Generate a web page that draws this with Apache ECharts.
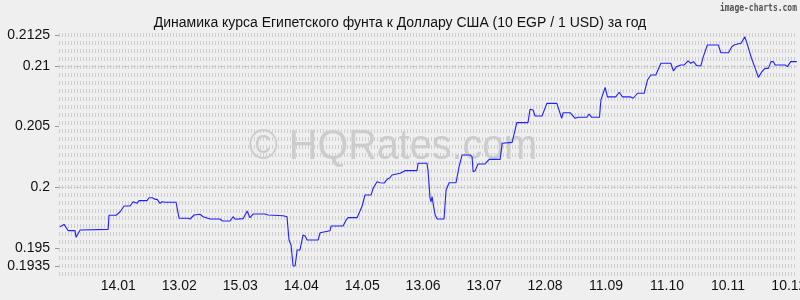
<!DOCTYPE html>
<html><head><meta charset="utf-8">
<script src="https://cdn.jsdelivr.net/npm/echarts@6/dist/echarts.min.js"></script>
<style>html,body{margin:0;padding:0;background:#efefef}#c{width:800px;height:300px}</style>
</head><body><div id="c"></div><script>
const titleText = 'Динамика курса Египетского фунта к Доллару США (10 EGP / 1 USD) за год';
const watermarkText = '© HQRates.com';
const creditText = 'image-charts.com';
// day index counted from 15.12.2024
const dayIndex = [1.3,3.3,5.3,8.7,9.2,11.2,25.0,25.4,28.9,30.9,32.8,35.8,37.3,39.2,40.2,44.1,45.1,46.6,48.1,49.1,50.5,51.5,53.0,58.4,59.9,64.3,65.3,67.3,70.2,71.7,75.2,80.1,81.1,85.0,86.5,87.5,91.4,93.4,94.8,96.3,99.8,100.7,102.2,103.7,111.1,113.0,114.0,115.0,116.0,117.0,118.0,119.4,120.9,121.9,122.9,128.3,129.3,134.2,134.7,140.6,142.1,143.1,147.5,149.0,150.0,151.4,154.4,155.4,157.3,158.8,160.8,162.3,163.7,164.7,168.7,171.1,177.0,177.5,181.9,182.4,183.4,183.9,184.4,184.9,185.9,186.9,190.3,191.3,192.8,196.2,197.7,199.2,203.1,204.1,204.6,205.6,207.0,210.5,211.5,212.5,217.9,218.9,223.8,226.1,231.6,232.6,234.1,235.1,238.5,240.9,245.8,248.2,248.9,252.3,254.8,256.3,260.5,261.7,263.0,266.8,267.5,269.6,270.7,274.8,276.5,278.1,282.1,283.4,285.5,288.8,290.4,292.1,294.5,297.0,301.9,303.2,304.7,306.8,308.5,310.4,311.7,313.1,314.6,316.7,317.9,319.9,325.3,326.5,330.3,331.9,333.1,334.8,336.5,338.3,339.4,341.6,342.5,343.4,345.0,346.7,348.3,349.9,351.2,352.4,353.2,358.1,359.3,360.9,363.9];
const rateValues = [0.19676,0.19695,0.19643,0.19643,0.19588,0.19649,0.19654,0.19770,0.19770,0.19799,0.19846,0.19846,0.19881,0.19868,0.19890,0.19890,0.19914,0.19914,0.19901,0.19901,0.19868,0.19881,0.19877,0.19877,0.19745,0.19745,0.19739,0.19772,0.19778,0.19758,0.19739,0.19739,0.19723,0.19723,0.19758,0.19737,0.19742,0.19805,0.19750,0.19780,0.19780,0.19766,0.19780,0.19772,0.19766,0.19758,0.19566,0.19525,0.19352,0.19352,0.19484,0.19484,0.19607,0.19599,0.19566,0.19566,0.19626,0.19643,0.19681,0.19681,0.19731,0.19750,0.19750,0.19807,0.19846,0.19937,0.19937,0.19992,0.20046,0.20038,0.20035,0.20066,0.20079,0.20101,0.20115,0.20137,0.20137,0.20198,0.20198,0.20142,0.19909,0.19881,0.19923,0.19868,0.19772,0.19739,0.19739,0.19978,0.20038,0.20038,0.20170,0.20266,0.20266,0.20252,0.20128,0.20137,0.20192,0.20192,0.20211,0.20230,0.20230,0.20362,0.20370,0.20532,0.20532,0.20642,0.20636,0.20587,0.20587,0.20691,0.20691,0.20568,0.20614,0.20614,0.20568,0.20576,0.20576,0.20603,0.20576,0.20576,0.20719,0.20823,0.20744,0.20744,0.20782,0.20744,0.20744,0.20733,0.20774,0.20774,0.20883,0.20924,0.20924,0.21021,0.21021,0.20957,0.20993,0.21007,0.21007,0.21040,0.21021,0.21034,0.21001,0.21001,0.21075,0.21171,0.21171,0.21108,0.21108,0.21157,0.21171,0.21179,0.21185,0.21240,0.21185,0.21062,0.21062,0.20981,0.20905,0.20951,0.20979,0.20979,0.21034,0.21034,0.21007,0.21007,0.20993,0.21034,0.21034];
const xTickDays = [30,60,90,120,150,180,210,240,270,300,330,360];
const xTickLabels = ['14.01','13.02','15.03','14.04','14.05','13.06','13.07','12.08','11.09','11.10','10.11','10.12'];
const yTickValues = [0.1935,0.195,0.2,0.205,0.21,0.2125];

const chart = echarts.init(document.getElementById('c'), null, {renderer:'canvas'});
const FONT = 'Liberation Sans, Arial, sans-serif';
chart.setOption({
  backgroundColor: '#efefef',
  animation: false,
  title: {
    text: titleText, left: 'center', top: 11,
    textStyle: {fontFamily: FONT, fontSize: 14, fontWeight: 'normal', color: '#111'}
  },
  graphic: [
    {type:'text', x: 393, y: 147, z: 0, silent: true, scaleX: 0.92,
     style: {text: watermarkText, font: '43px "Liberation Sans", Arial, sans-serif', fill: 'rgba(140,140,140,0.35)', align: 'center', verticalAlign: 'middle'}},
    {type:'text', x: 797, y: 8, silent: true, scaleX: 0.8,
     style: {text: creditText, font: 'bold 10px "DejaVu Sans Mono", monospace', fill: '#555', align: 'right', verticalAlign: 'middle'}}
  ],
  grid: {left: 59, right: 3, top: 35, bottom: 26, containLabel: false, outerBoundsMode: 'none'},
  xAxis: {
    type: 'value', min: 0.8, max: 364,
    axisLine: {show: false}, axisTick: {show: false}, splitLine: {show: false},
    axisLabel: {
      customValues: xTickDays, margin: 5,
      fontFamily: FONT, fontSize: 14, color: '#111',
      formatter: v => { const i = xTickDays.indexOf(Math.round(v)); return i >= 0 ? xTickLabels[i] : ''; }
    }
  },
  yAxis: [{
    type: 'value', min: 0.192864, max: 0.212535,
    axisLine: {show: false},
    axisTick: {show: true, customValues: yTickValues, length: 4, lineStyle: {color: '#999'}},
    splitLine: {show: false},
    axisLabel: {
      customValues: yTickValues, margin: 9,
      fontFamily: FONT, fontSize: 14, color: '#111',
      formatter: v => String(+v.toFixed(4))
    }
  }, {
    type: 'value', min: 0, max: 30, interval: 1, position: 'left',
    axisLine: {show: false}, axisTick: {show: false}, axisLabel: {show: false},
    splitLine: {show: true, lineStyle: {color: '#cdcdcd', width: 4, type: [1, 2]}}
  }],
  series: [{
    type: 'line', yAxisIndex: 0, z: 5,
    data: dayIndex.map((d, i) => [d, rateValues[i]]),
    showSymbol: false, symbol: 'none',
    lineStyle: {color: '#2020ff', width: 1.1},
    markLine: {
      silent: true, symbol: 'none', label: {show: false},
      lineStyle: {color: '#cccccc', width: 1, type: [5, 3]},
      data: yTickValues.map(v => ({yAxis: v}))
    }
  }]
});
</script></body></html>
